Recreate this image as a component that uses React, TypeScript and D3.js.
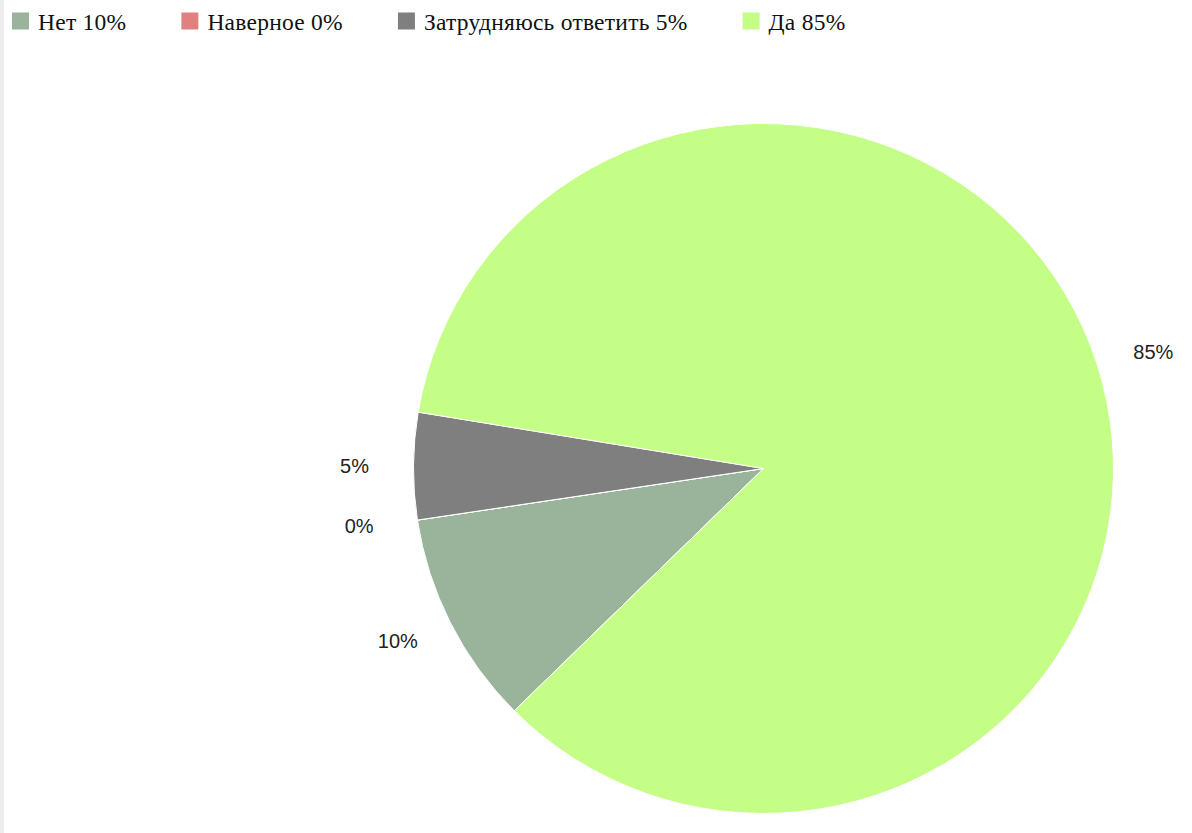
import React, { useEffect, useRef } from "react";
import * as d3 from "d3";

const categories = ["Нет", "Наверное", "Затрудняюсь ответить", "Да"];
const values = [10, 0, 5, 85];
const colors = ["#9ab39b", "#e18080", "#7f7f7f", "#c4fe86"];

const W = 1192;
const H = 833;

export default function App() {
  const ref = useRef<SVGSVGElement | null>(null);

  useEffect(() => {
    const svg = d3.select(ref.current);
    svg.selectAll("*").remove();

    svg.append("rect").attr("x", 0).attr("y", 0).attr("width", W).attr("height", H).attr("fill", "#ffffff");
    svg.append("rect").attr("x", 0).attr("y", 0).attr("width", 4).attr("height", H).attr("fill", "#ececec");

    const cx = 763.5;
    const cy = 468.5;
    const ry = 345;
    const rx = 350;
    const start = (225.4 * Math.PI) / 180;

    const pie = d3
      .pie<number>()
      .sort(null)
      .value((d) => d)
      .startAngle(start)
      .endAngle(start + 2 * Math.PI);
    const arcs = pie(values);
    const arc = d3.arc<d3.PieArcDatum<number>>().innerRadius(0).outerRadius(ry);

    const g = svg
      .append("g")
      .attr("transform", `translate(${cx},${cy}) scale(${rx / ry},1)`);
    g.selectAll("path.slice")
      .data(arcs)
      .enter()
      .append("path")
      .attr("class", "slice")
      .attr("d", arc as any)
      .attr("fill", (_d, i) => colors[i])
      .attr("stroke", "#ffffff")
      .attr("stroke-width", 1)
      .attr("vector-effect", "non-scaling-stroke");

    const la = 409;
    const lb = 385;
    const lg0 = svg.append("g").attr("transform", `translate(${cx},${cy})`);
    lg0
      .selectAll("text.lbl")
      .data(arcs)
      .enter()
      .append("text")
      .attr("class", "lbl")
      .attr("x", (d) => la * Math.sin((d.startAngle + d.endAngle) / 2))
      .attr("y", (d) => -lb * Math.cos((d.startAngle + d.endAngle) / 2))
      .attr("text-anchor", "middle")
      .attr("dominant-baseline", "central")
      .attr("font-family", "'Liberation Sans', Arial, sans-serif")
      .attr("font-size", 20)
      .attr("fill", "#222")
      .text((d) => `${d.data}%`);

    // legend
    const lg = svg.append("g");
    let x = 12;
    categories.forEach((c, i) => {
      const item = lg.append("g").attr("transform", `translate(${x},0)`);
      item.append("rect").attr("x", 0).attr("y", 12.5).attr("width", 17).attr("height", 17).attr("fill", colors[i]);
      const t = item
        .append("text")
        .attr("x", 26)
        .attr("y", 29.5)
        .attr("font-family", "'Liberation Serif', 'Times New Roman', serif")
        .attr("font-size", 23.5)
        .attr("letter-spacing", 0.25)
        .attr("fill", "#111")
        .text(`${c} ${values[i]}%`);
      const w = (t.node() as SVGTextElement).getComputedTextLength();
      x = x + 26 + w + 55;
    });
  }, []);

  return (
    <svg
      ref={ref}
      width={W}
      height={H}
      style={{ position: "absolute", left: 0, top: 0, display: "block" }}
    />
  );
}
